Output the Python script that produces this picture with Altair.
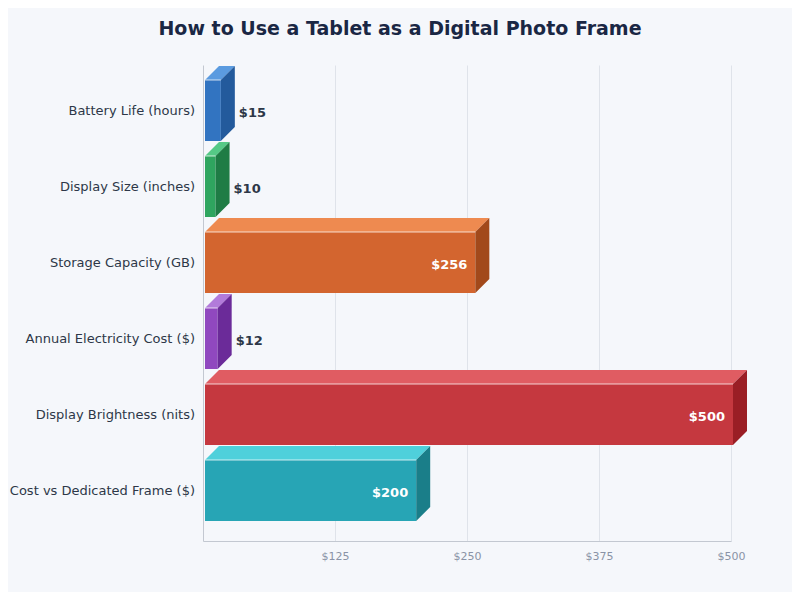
import altair as alt
import pandas as pd

# ---- data ----
categories = [
    "Battery Life (hours)",
    "Display Size (inches)",
    "Storage Capacity (GB)",
    "Annual Electricity Cost ($)",
    "Display Brightness (nits)",
    "Cost vs Dedicated Frame ($)",
]
values = [15, 10, 256, 12, 500, 200]
front_colors = ["#3274c1", "#2fa55f", "#d3652f", "#9048bf", "#c5383f", "#27a5b5"]
top_colors = ["#5b9be0", "#55c986", "#ee8a50", "#b27bda", "#e05c62", "#4fd0db"]
side_colors = ["#235a9c", "#1f7c45", "#a2491b", "#6b2b99", "#9a1e25", "#1a7e89"]
x_ticks = [125, 250, 375, 500]

# ---- geometry (pixel constants for the 3D look) ----
W, H = 528, 476
XMAX = 500
STEP_PX, GAP_PX, BAR_PX, DEPTH_PX, SHIFT_PX = 76, 15, 61, 14, 2
ymax = H / STEP_PX
dy = DEPTH_PX / STEP_PX
dx = DEPTH_PX * XMAX / W
sh = SHIFT_PX * XMAX / W

front_rows, top_rows, side_rows = [], [], []
for i, (c, v) in enumerate(zip(categories, values)):
    yt = i + GAP_PX / STEP_PX
    yb = yt + BAR_PX / STEP_PX
    front_rows.append(dict(cat=c, value=v, x0=sh, x1=v + sh, xs=v + sh + dx,
                           yt=yt, yb=yb, yc=(yt + yb) / 2, color=front_colors[i],
                           label=f"${v}", inside=v >= 100))
    top_rows += [dict(cat=c, y=yt, xa=sh, xb=v + sh, color=top_colors[i]),
                 dict(cat=c, y=yt - dy, xa=sh + dx, xb=v + sh + dx, color=top_colors[i])]
    side_rows += [dict(cat=c, x=v + sh, ya=yt, yb=yb, color=side_colors[i]),
                  dict(cat=c, x=v + sh + dx, ya=yt - dy, yb=yb - dy, color=side_colors[i])]

front = pd.DataFrame(front_rows)
top = pd.DataFrame(top_rows)
side = pd.DataFrame(side_rows)

xscale = alt.Scale(domain=[0, XMAX], nice=False, zero=True)
yscale = alt.Scale(domain=[0, ymax], nice=False, zero=False, reverse=True)

xaxis = alt.Axis(values=x_ticks, labelExpr="'$' + datum.value", grid=True,
                 gridColor="#dfe3ea", domainColor="#c3c8d1", ticks=False,
                 labelColor="#8a93a6", labelFontSize=11, labelPadding=9,
                 labelFlush=False, labelFont="DejaVu Sans", title=None)
yaxis = alt.Axis(labels=False, ticks=False, grid=False, domainColor="#c3c8d1", title=None)

base_front = alt.Chart(front)

front_layer = base_front.mark_rect().encode(
    x=alt.X("x0:Q", scale=xscale, axis=xaxis),
    x2="x1:Q",
    y=alt.Y("yt:Q", scale=yscale, axis=yaxis),
    y2="yb:Q",
    color=alt.Color("color:N", scale=None),
)

top_layer = alt.Chart(top).mark_area(orient="horizontal").encode(
    y=alt.Y("y:Q", scale=yscale),
    x=alt.X("xa:Q", scale=xscale),
    x2="xb:Q",
    detail="cat:N",
    color=alt.Color("color:N", scale=None),
)

side_layer = alt.Chart(side).mark_area(orient="vertical").encode(
    x=alt.X("x:Q", scale=xscale),
    y=alt.Y("ya:Q", scale=yscale),
    y2="yb:Q",
    detail="cat:N",
    color=alt.Color("color:N", scale=None),
)

highlight = base_front.mark_rule(color="white", opacity=0.75, strokeWidth=1).encode(
    x="x0:Q", x2="x1:Q", y="yt:Q",
)

cat_labels = base_front.mark_text(align="right", baseline="middle", dx=-8,
                                  fontSize=13, font="DejaVu Sans", color="#2d3748").encode(
    x=alt.datum(0), y="yc:Q", text="cat:N",
)

val_out = base_front.transform_filter("!datum.inside").mark_text(
    align="left", baseline="middle", dx=4, dy=2, fontSize=13, fontWeight="bold",
    font="DejaVu Sans", color="#2d3748").encode(
    x="xs:Q", y="yc:Q", text="label:N",
)

val_in = base_front.transform_filter("datum.inside").mark_text(
    align="right", baseline="middle", dx=-8, dy=2, fontSize=13, fontWeight="bold",
    font="DejaVu Sans", color="white").encode(
    x="x1:Q", y="yc:Q", text="label:N",
)

chart = alt.layer(
    front_layer, top_layer, side_layer, highlight, cat_labels, val_out, val_in
).properties(
    width=W, height=H,
    autosize=alt.AutoSizeParams(type="none"),
    padding={"left": 195, "top": 57, "right": 61, "bottom": 51},
    background="#f5f7fb",
    title=alt.TitleParams(
        "How to Use a Tablet as a Digital Photo Frame",
        fontSize=19, fontWeight="bold", font="DejaVu Sans", color="#1a2744",
        anchor="middle", dx=-67, offset=26,
    ),
).configure_view(stroke=None)

chart.save("out.html", embed_options={"renderer": "svg", "actions": False})
